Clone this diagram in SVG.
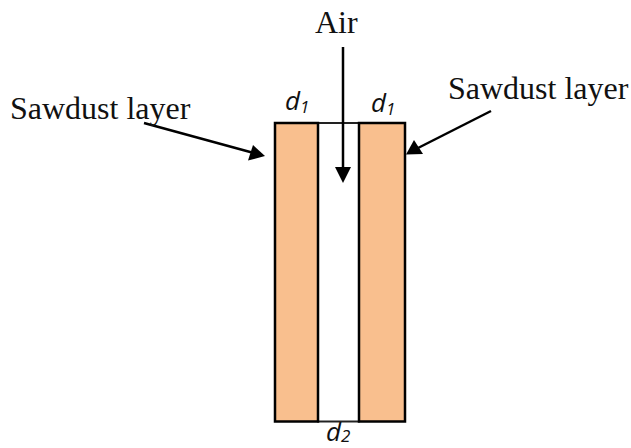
<svg xmlns="http://www.w3.org/2000/svg" width="631" height="448" viewBox="0 0 631 448">
<style>
.layer{fill:#f9bf8e;stroke:#000;stroke-width:2.5}
.gap{fill:#fff;stroke:#222;stroke-width:2}
.lbl{font-family:"Liberation Serif",serif;font-size:32px;fill:#111}
.dim{font-family:"Open Sans","Noto Sans",sans-serif;font-style:italic;font-size:26px;fill:#111}
.dim tspan{font-size:17px}
.conn{stroke:#000;stroke-width:2.5;fill:none}
.head{fill:#000}
</style>
<rect width="631" height="448" fill="#fff"/>
<g id="air-gap"><rect class="gap" x="318" y="123" width="41" height="298.500"/></g>
<g id="layer-left"><rect class="layer" x="275" y="123" width="43" height="298.500"/></g>
<g id="layer-right"><rect class="layer" x="359" y="123" width="46" height="298.500"/></g>
<g id="connectors">
<path class="conn" d="M343 47V170"/><polygon class="head" points="343,183 335,167 351,167"/>
<path class="conn" d="M144 123L252 152.500"/><polygon class="head" points="265,156 248,160.500 253,145"/>
<path class="conn" d="M491 111L418 148"/><polygon class="head" points="406,154.500 423,154 414,140"/>
</g>
<g id="label-air"><text class="lbl" x="315" y="33">Air</text></g>
<g id="label-sawdust-left"><text class="lbl" x="10" y="119">Sawdust layer</text></g>
<g id="label-sawdust-right"><text class="lbl" x="448" y="99">Sawdust layer</text></g>
<g id="label-d1-left"><text class="dim" x="285" y="110">d<tspan dy="3">1</tspan></text></g>
<g id="label-d1-right"><text class="dim" x="371" y="112">d<tspan dy="3">1</tspan></text></g>
<g id="label-d2"><text class="dim" x="326" y="441">d<tspan dy="1">2</tspan></text></g>
</svg>
